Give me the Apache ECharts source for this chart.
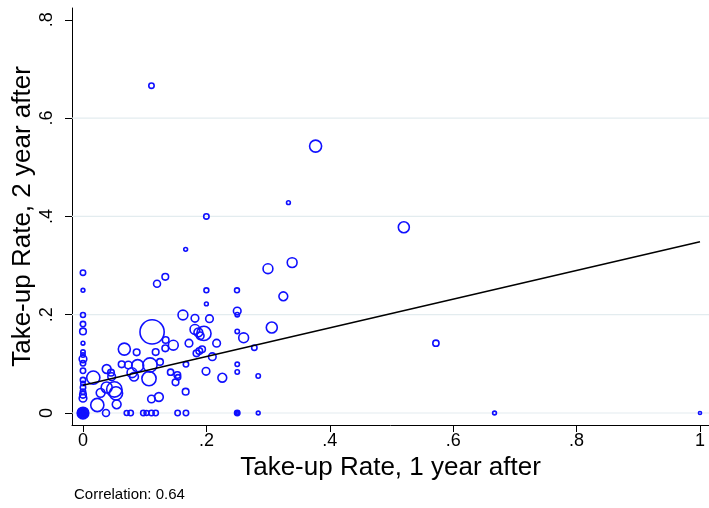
<!DOCTYPE html>
<html>
<head>
<meta charset="utf-8">
<script src="https://cdn.jsdelivr.net/npm/echarts@6/dist/echarts.min.js"></script>
<style>
html,body{margin:0;padding:0;background:#fff;}
#chart{width:709px;height:508px;}
</style>
</head>
<body>
<div id="chart"></div>
<script>
// Take-up rate one year after (x) and two years after (y), with observation weights
const takeUp1 = [
  0, 0, 0, 0, 0, 0, 0, 0, 0, 0, 0, 0, 0, 0, 0, 0, 0, 0, 0, 0, 0, 0, 0, 0, 0,
  0.0167, 0.0232, 0.0286, 0.0373, 0.0384, 0.0384, 0.0454, 0.0465, 0.0508, 0.0535, 0.0546,
  0.0627, 0.067, 0.0735, 0.0708, 0.0773, 0.0794, 0.0827, 0.0886, 0.087, 0.0978,
  0.103, 0.107, 0.1086, 0.111, 0.111, 0.1178, 0.123, 0.1248, 0.1178, 0.134, 0.1334,
  0.1464, 0.142, 0.150, 0.1529, 0.154, 0.1669, 0.1664, 0.1534, 0.1669,
  0.162, 0.1815, 0.205, 0.1718, 0.184, 0.1885, 0.193, 0.1994, 0.2096, 0.2166, 0.2258,
  0.25, 0.25, 0.25, 0.25, 0.25, 0.25, 0.25, 0.25, 0.2604, 0.2777, 0.284, 0.284,
  0.1815, 0.187, 0.196, 0.19, 0.112,
  0.12, 0.1334, 0.1664, 0.2, 0.2, 0.2496, 0.2998, 0.339, 0.3247, 0.306,
  0.111, 0.377, 0.2, 0.333, 0.520, 0.572, 0.667, 1.0
];
const takeUp2 = [
  0.2855, 0.2496, 0.1994, 0.181, 0.166, 0.142, 0.124, 0.118, 0.11, 0.101, 0.086, 0.067, 0.06, 0.052, 0.0434, 0.037, 0.03, 0, 0, 0, 0, 0, 0, 0, 0,
  0.072, 0.0163, 0.041, 0, 0.052, 0.0895, 0.082, 0.074, 0.048, 0.04, 0.0177,
  0.099, 0.130, 0.0977, 0, 0, 0.082, 0.074, 0.0963, 0.1235, 0,
  0, 0.07, 0.0977, 0.0285, 0, 0, 0.0326, 0.104, 0.124, 0.1485, 0.1316,
  0.138, 0.083, 0.0624, 0.0773, 0.0726, 0.099, 0.0434, 0, 0,
  0.1994, 0.1927, 0.192, 0.142, 0.1215, 0.126, 0.1296, 0.0848, 0.1146, 0.142, 0.0718,
  0.099, 0.0834, 0, 0, 0, 0.2, 0.2075, 0.166, 0.153, 0.133, 0.0753, 0,
  0.17, 0.164, 0.162, 0.157, 0.165,
  0.263, 0.277, 0.333, 0.2496, 0.222, 0.2496, 0.2936, 0.306, 0.2374, 0.174,
  0.666, 0.543, 0.4, 0.428, 0.378, 0.142, 0, 0
];
const weights = [
  6, 3, 5, 6, 9, 3, 4, 4, 12, 6, 6, 6, 4, 6, 6, 9, 12, 28, 21, 15, 10, 6, 3, 1.5, 0.5,
  36, 36, 16, 10, 25, 16, 9, 12, 49, 36, 16,
  9, 30, 12, 5, 6, 20, 16, 30, 9, 6,
  5, 42, 42, 12, 6, 6, 16, 9, 9, 9, 9,
  20, 8, 9, 9, 6, 6, 9, 6, 6,
  20, 12, 12, 12, 9, 9, 9, 12, 12, 12, 16,
  4, 4, 6, 3, 1, 4, 12, 4, 20, 6, 4, 3,
  20, 16, 42, 12, 121,
  10, 9, 3, 5, 3, 5, 20, 20, 16, 25,
  6, 30, 6, 3, 25, 8, 3, 2
];
const xTicks = [0, 0.2, 0.4, 0.6, 0.8, 1];
const yTicks = [0, 0.2, 0.4, 0.6, 0.8];
const yGridValues = [0, 0.2, 0.4, 0.6];
const xRange = [-0.0178, 1.0146];
const yRange = [-0.0244, 0.824];
const fitIntercept = 0.0565;
const fitSlope = 0.292;
const fitRange = [0, 1];
const xTitle = 'Take-up Rate, 1 year after';
const yTitle = 'Take-up Rate, 2 year after';
const noteText = 'Correlation: 0.64';

const points = takeUp1.map((x, i) => [x, takeUp2[i], weights[i]]);
const fitLine = fitRange.map(x => [x, fitIntercept + fitSlope * x]);
const fmt = v => (v === 0 ? '0' : String(+v.toFixed(2)).replace(/^0\./, '.'));
const FONT = 'Liberation Sans, Arial, sans-serif';

const gridSeries = yGridValues.map(v => ({
  type: 'line', silent: true, z: 1, symbol: 'none',
  data: xRange.map(x => [x, v]),
  lineStyle: {color: '#e3ecef', width: 1.2}
}));

const chart = echarts.init(document.getElementById('chart'), null, {renderer: 'canvas'});
chart.setOption({
  animation: false,
  backgroundColor: '#ffffff',
  textStyle: {fontFamily: FONT},
  grid: {left: 72, right: 0, top: 8, bottom: 83, containLabel: false},
  xAxis: {
    type: 'value', min: xRange[0], max: xRange[1],
    axisLine: {show: true, onZero: false, lineStyle: {color: '#000', width: 1}},
    axisTick: {show: true, customValues: xTicks, length: 7, lineStyle: {color: '#000', width: 1}},
    axisLabel: {customValues: xTicks, formatter: fmt, fontSize: 18, color: '#000', margin: 7, fontFamily: FONT},
    splitLine: {show: false},
    name: xTitle, nameLocation: 'middle', nameGap: 30, nameMoveOverlap: false,
    nameTextStyle: {fontSize: 26, color: '#000', fontFamily: FONT}
  },
  yAxis: {
    type: 'value', min: yRange[0], max: yRange[1],
    axisLine: {show: true, onZero: false, lineStyle: {color: '#000', width: 1}},
    axisTick: {show: true, customValues: yTicks, length: 7, lineStyle: {color: '#000', width: 1}},
    axisLabel: {customValues: yTicks, formatter: fmt, fontSize: 18, color: '#000', margin: 16, rotate: 90, fontFamily: FONT},
    splitLine: {show: false},
    name: yTitle, nameLocation: 'middle', nameGap: 36, nameMoveOverlap: false,
    nameTextStyle: {fontSize: 26, color: '#000', fontFamily: FONT}
  },
  graphic: [{
    type: 'text', left: 74, top: 487,
    style: {text: noteText, fontSize: 15, fill: '#000', fontFamily: FONT}
  }],
  series: gridSeries.concat([
    {
      type: 'scatter', data: points, z: 3,
      symbol: 'circle',
      symbolSize: v => 2.2 * Math.sqrt(v[2]),
      itemStyle: {color: 'rgba(0,0,0,0)', borderColor: '#1010ff', borderWidth: 1.6, opacity: 1}
    },
    {
      type: 'line', data: fitLine, z: 4, symbol: 'none',
      lineStyle: {color: '#000', width: 1.5}
    }
  ])
});
</script>
</body>
</html>
